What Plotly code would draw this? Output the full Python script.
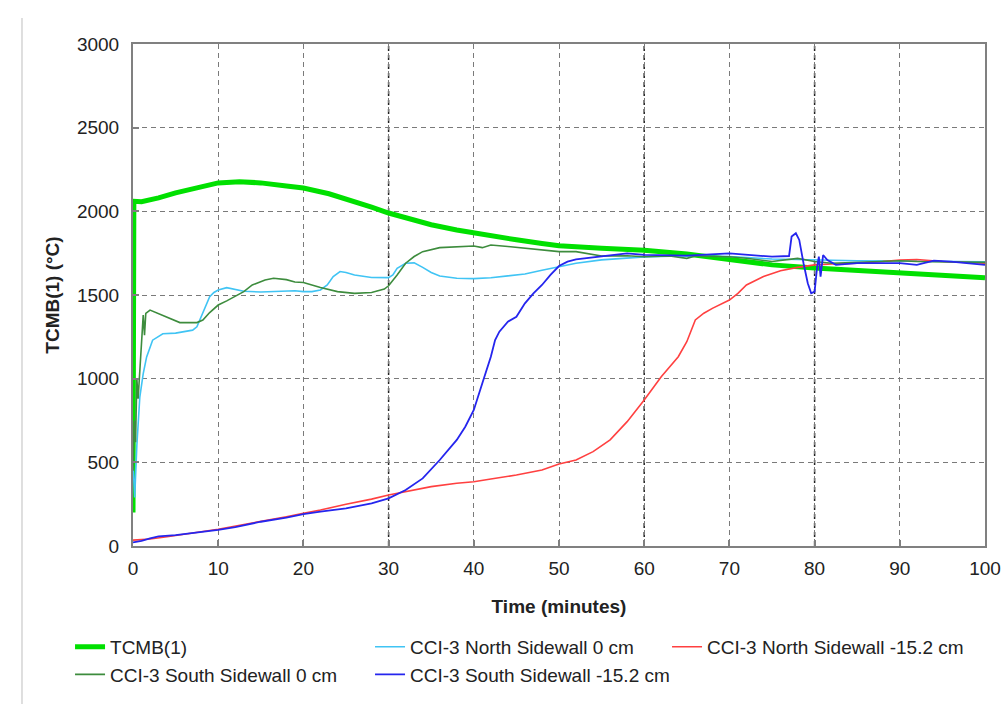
import plotly.graph_objects as go

# ---------------- data ----------------
tcmb_t = [0, 0.1, 1, 3, 5, 8, 10, 12.5, 15, 18, 20, 23, 25, 28, 30, 33, 35, 38, 40, 43, 45, 48, 50,
          55, 60, 65, 70, 75, 80, 85, 90, 95, 100]
tcmb_v = [200, 2060, 2058, 2080, 2110, 2150, 2170, 2177, 2170, 2152, 2139, 2105, 2075, 2025, 1990,
          1945, 1920, 1888, 1870, 1845, 1830, 1808, 1795, 1780, 1768, 1745, 1709, 1680, 1661, 1645,
          1633, 1618, 1603]

n0_t = [0, 0.2, 0.45, 0.8, 1.2, 1.6, 2.3, 3.5, 5, 7, 7.5, 8, 8.5, 9, 9.5, 10, 11, 12, 13, 15, 17, 19,
        20, 21, 22, 22.8, 23.5, 24.3, 25, 26, 28, 30, 30.5, 31, 32, 33, 34, 35, 36, 38, 40, 42, 44,
        46, 48, 50, 52, 55, 60, 65, 70, 75, 80, 85, 90, 95, 100]
n0_v = [500, 290, 600, 890, 1030, 1130, 1230, 1268, 1272, 1290, 1310, 1370, 1430, 1490, 1515, 1530,
        1544, 1535, 1522, 1518, 1522, 1525, 1520, 1520, 1530, 1560, 1610, 1640, 1635, 1620, 1605,
        1604, 1620, 1660, 1690, 1692, 1665, 1635, 1614, 1600, 1598, 1603, 1614, 1625, 1648, 1670,
        1690, 1710, 1728, 1735, 1730, 1715, 1708, 1705, 1703, 1700, 1698]

n15_t = [0, 1, 2, 4, 6, 8, 10, 12, 15, 18, 20, 22, 25, 28, 30, 32, 35, 38, 40, 42, 45, 48, 50, 52,
         54, 56, 58, 60, 62, 64, 65, 66, 67, 68, 70, 71, 72, 74, 76, 78, 80, 82, 85, 88, 90, 92,
         95, 100]
n15_v = [35, 38, 42, 55, 68, 85, 100, 118, 145, 175, 195, 215, 250, 280, 305, 325, 355, 375, 384,
         400, 424, 454, 490, 514, 564, 634, 743, 873, 1012, 1131, 1221, 1351, 1391, 1420, 1470,
         1510, 1560, 1610, 1645, 1665, 1680, 1685, 1690, 1700, 1709, 1712, 1700, 1690]

s0_t = [0, 0.15, 0.3, 0.45, 0.6, 0.9, 1.2, 1.35, 1.5, 2, 2.7, 3.5, 4.7, 5.5, 7.5, 8.2, 9, 10, 11,
        12, 13, 14, 15.5, 16.5, 18, 19, 20, 22, 24, 26, 28, 29.5, 30, 31, 32, 33, 34, 36, 38, 40,
        41, 42, 44, 46, 48, 50, 52, 55, 58, 60, 63, 65, 66, 68, 70, 72, 75, 78, 80, 82, 85, 88,
        90, 92, 95, 100]
s0_v = [450, 750, 620, 1000, 880, 1150, 1380, 1260, 1390, 1410, 1395, 1375, 1351, 1335, 1335, 1350,
        1395, 1440, 1465, 1490, 1520, 1560, 1590, 1600, 1592, 1578, 1575, 1545, 1520, 1510, 1515,
        1535, 1555, 1620, 1690, 1730, 1759, 1783, 1790, 1793, 1783, 1799, 1790, 1779, 1770, 1759,
        1759, 1733, 1735, 1729, 1733, 1719, 1733, 1731, 1729, 1720, 1700, 1719, 1700, 1690, 1695,
        1700, 1705, 1700, 1698, 1695]

s15_t = [0, 1, 2, 3, 5, 8, 10, 12, 15, 18, 20, 22, 25, 28, 30, 32, 34, 36, 38, 39, 40, 41, 42,
         42.5, 43, 44, 45, 46, 47, 48, 49, 50, 51, 52, 55, 58, 60, 65, 70, 75, 77, 77.3, 77.8,
         78.2, 78.7, 79.2, 79.6, 80, 80.3, 80.5, 80.7, 81, 81.5, 82.5, 85, 88, 90, 92, 94, 96, 100]
s15_v = [22, 30, 45, 57, 65, 82, 97, 113, 145, 170, 190, 205, 225, 255, 285, 335, 404, 514, 634,
         713, 813, 972, 1131, 1231, 1281, 1341, 1370, 1450, 1510, 1560, 1620, 1673, 1699, 1713,
         1729, 1749, 1740, 1735, 1749, 1729, 1733, 1849, 1869, 1829, 1690, 1570, 1510, 1520, 1669,
         1729, 1610, 1739, 1709, 1680, 1690, 1690, 1690, 1680, 1705, 1700, 1680]

x_ticks = [0, 10, 20, 30, 40, 50, 60, 70, 80, 90, 100]
y_ticks = [0, 500, 1000, 1500, 2000, 2500, 3000]
dark_grid_x = [30, 60, 80]

FONT = "Liberation Sans, Arial, sans-serif"
GRID_DASH = "5px,4px"

fig = go.Figure()
fig.add_trace(go.Scatter(x=tcmb_t, y=tcmb_v, mode="lines", name="TCMB(1)",
                         line=dict(color="#00e000", width=5), legend="legend"))
fig.add_trace(go.Scatter(x=n0_t, y=n0_v, mode="lines", name="CCI-3 North Sidewall 0 cm",
                         line=dict(color="#40c4f4", width=1.6), legend="legend2"))
fig.add_trace(go.Scatter(x=n15_t, y=n15_v, mode="lines", name="CCI-3 North Sidewall -15.2 cm",
                         line=dict(color="#ff4040", width=1.6), legend="legend3"))
fig.add_trace(go.Scatter(x=s0_t, y=s0_v, mode="lines", name="CCI-3 South Sidewall 0 cm",
                         line=dict(color="#3d8c3d", width=1.6), legend="legend"))
fig.add_trace(go.Scatter(x=s15_t, y=s15_v, mode="lines", name="CCI-3 South Sidewall -15.2 cm",
                         line=dict(color="#2525ee", width=1.8), legend="legend2"))

shapes = []
for xv in dark_grid_x:
    shapes.append(dict(type="line", xref="x", yref="paper", x0=xv, x1=xv, y0=0, y1=1,
                       line=dict(color="#202020", width=1.5, dash=GRID_DASH), layer="below"))
# page border line at left
shapes.append(dict(type="line", xref="paper", yref="paper", x0=-0.1303, x1=-0.1303,
                   y0=-0.315, y1=1.052, line=dict(color="#d4d4d4", width=1.5)))

leg_common = dict(orientation="v", xanchor="left", yanchor="top", bgcolor="rgba(0,0,0,0)",
                  font=dict(family=FONT, size=19, color="#222222"), tracegroupgap=0)

fig.update_layout(
    width=1003, height=704,
    margin=dict(l=133, r=18, t=44, b=158, autoexpand=False),
    paper_bgcolor="white", plot_bgcolor="white",
    font=dict(family=FONT, size=18, color="#222222"),
    shapes=shapes,
    legend=dict(x=-0.0739, y=-0.163, **leg_common),
    legend2=dict(x=0.2782, y=-0.163, **leg_common),
    legend3=dict(x=0.6268, y=-0.163, **leg_common),
    xaxis=dict(range=[0, 100], tickvals=x_ticks, ticktext=[str(v) for v in x_ticks],
               showgrid=True, gridcolor="#7a7a7a", griddash=GRID_DASH, gridwidth=1.4,
               showline=True, linecolor="#808080", linewidth=2, mirror=True,
               ticks="inside", ticklen=6, tickcolor="#808080", tickwidth=1.5,
               ticklabelstandoff=4,
               zeroline=False, automargin=False,
               tickfont=dict(family=FONT, size=19, color="#222222"),
               title=dict(text="<b>Time (minutes)</b>", standoff=22,
                          font=dict(family=FONT, size=19, color="#222222"))),
    yaxis=dict(range=[0, 3000], tickvals=y_ticks, ticktext=[str(v) for v in y_ticks],
               showgrid=True, gridcolor="#7a7a7a", griddash=GRID_DASH, gridwidth=1.4,
               showline=True, linecolor="#808080", linewidth=2, mirror=True,
               ticks="inside", ticklen=6, tickcolor="#808080", tickwidth=1.5,
               ticklabelstandoff=8,
               zeroline=False, automargin=False,
               tickfont=dict(family=FONT, size=19, color="#222222"),
               title=dict(text="<b>TCMB(1) (°C)</b>", standoff=12,
                          font=dict(family=FONT, size=19, color="#222222"))),
)

fig.write_html("out.html")
